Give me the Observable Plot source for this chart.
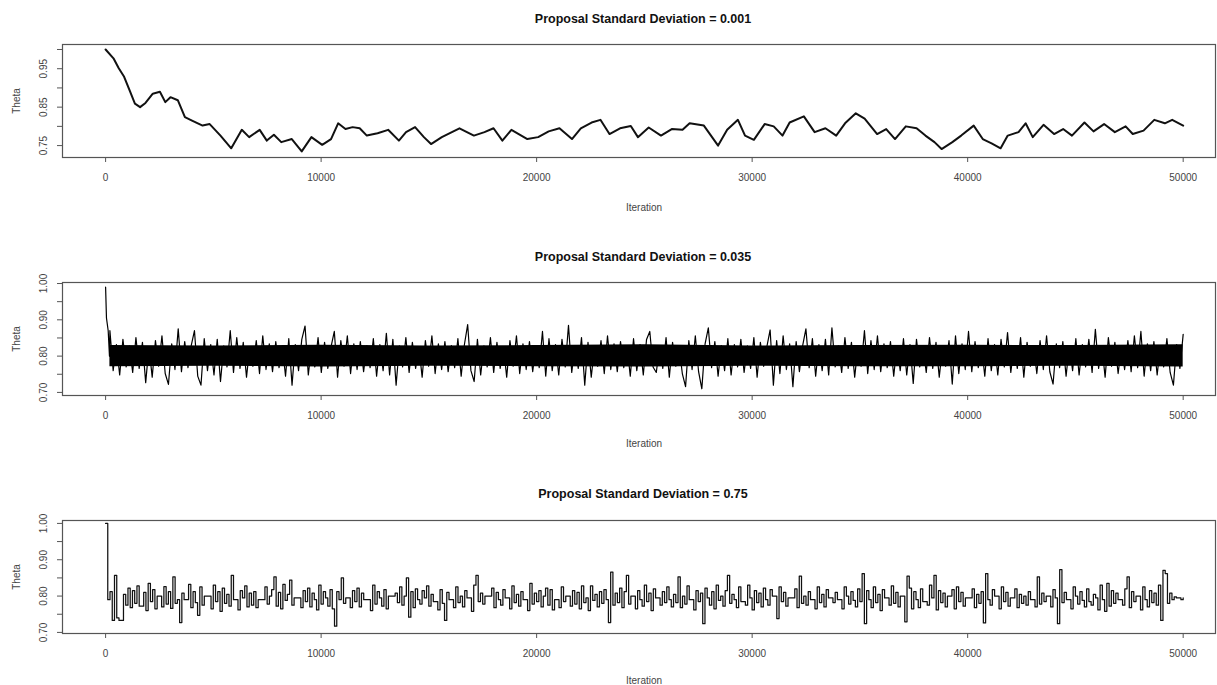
<!DOCTYPE html>
<html>
<head>
<meta charset="utf-8">
<script src="https://cdn.jsdelivr.net/npm/d3@7"></script>
<script src="https://cdn.jsdelivr.net/npm/@observablehq/plot@0.6"></script>
<style>
  body { margin: 0; background: #fff; }
  #wrap { position: relative; width: 1217px; height: 685px; background: #fff; overflow: hidden; }
  .panel { position: absolute; left: 0; }
</style>
</head>
<body>
<div id="wrap"></div>
<script>
// ---------- shared axis data ----------
const xTicks = [0, 10000, 20000, 30000, 40000, 50000];
const titles = ["Proposal Standard Deviation = 0.001", "Proposal Standard Deviation = 0.035", "Proposal Standard Deviation = 0.75"];
const xLabel = "Iteration";
const yLabel = "Theta";

// ---------- panel 1 (sd = 0.001) ----------
const p1Iter = [0,365,610,860,1110,1360,1600,1850,2190,2520,2770,3010,3350,3680,4010,4500,4830,5330,5830,6320,6660,7150,7480,7810,8150,8640,9100,9550,10050,10460,10790,11130,11460,11790,12120,12620,13110,13610,13940,14360,14770,15100,15600,16420,17090,17580,18000,18410,18830,19570,20070,20560,21060,21640,22050,22550,22960,23380,23870,24370,24700,25200,25770,26270,26770,27100,27760,28420,28840,29340,29670,30080,30580,31000,31410,31740,32400,32900,33400,33900,34310,34810,35220,35800,36220,36630,37130,37630,38040,38460,38790,39290,39700,40280,40700,41110,41530,41860,42360,42690,43020,43520,44010,44430,44840,45420,45840,46330,46830,47330,47660,48160,48660,49150,49490,50000];
const p1Theta = [1.000,0.977,0.951,0.929,0.894,0.859,0.850,0.861,0.885,0.890,0.863,0.876,0.868,0.824,0.815,0.802,0.806,0.776,0.743,0.791,0.772,0.791,0.763,0.778,0.759,0.767,0.735,0.772,0.752,0.767,0.808,0.793,0.798,0.795,0.776,0.782,0.791,0.763,0.785,0.798,0.772,0.754,0.772,0.795,0.776,0.785,0.795,0.763,0.791,0.767,0.772,0.787,0.795,0.767,0.795,0.810,0.817,0.780,0.795,0.801,0.772,0.797,0.776,0.793,0.791,0.808,0.802,0.750,0.791,0.817,0.776,0.765,0.806,0.800,0.776,0.810,0.826,0.785,0.795,0.776,0.808,0.834,0.820,0.780,0.793,0.767,0.800,0.795,0.776,0.759,0.741,0.759,0.776,0.802,0.767,0.756,0.743,0.776,0.785,0.808,0.772,0.804,0.780,0.793,0.776,0.810,0.787,0.806,0.785,0.800,0.780,0.789,0.817,0.808,0.817,0.802];
const p1YTicks = [0.75, 0.80, 0.85, 0.90, 0.95, 1.00];
const p1YLabels = [0.75, 0.85, 0.95];

// ---------- panel 2 (sd = 0.035) ----------
const p2StartIter = [0, 40, 120, 180];
const p2StartTheta = [0.990, 0.905, 0.870, 0.800];
const p2FirstIter = 200, p2LastIter = 50000;
// sampled trace values (thousandths), read left to right from the band
const p2Theta = [
870,760,832,748,846,770,828,755,851,766,
838,727,826,742,843,772,856,752,722,834,
763,875,757,840,768,829,870,745,720,848,
760,832,748,846,730,828,770,870,755,851,
766,838,742,826,772,843,752,856,763,834,
757,840,768,829,745,848,720,832,760,846,
883,748,828,770,851,755,838,766,826,868,
742,843,772,856,752,834,763,840,757,829,
768,848,745,832,760,863,748,846,720,828,
770,851,755,838,766,826,742,843,772,856,
752,834,763,840,757,829,768,848,745,832,
887,760,730,846,748,828,770,851,755,838,
766,826,742,843,772,856,752,834,763,840,
757,829,768,868,745,848,760,832,748,846,
770,885,755,828,766,851,720,838,742,826,
772,843,752,856,763,834,757,840,768,829,
745,848,760,832,748,846,868,770,755,828,
766,851,742,838,772,826,752,716,843,763,
856,757,710,834,878,768,840,745,829,760,
848,748,832,770,846,755,828,766,851,742,
838,772,826,872,720,843,752,856,763,834,
716,840,757,829,875,768,848,745,832,760,
846,748,878,770,828,755,851,766,838,742,
826,772,870,752,843,763,856,757,834,768,
840,745,829,760,848,748,832,725,846,770,
828,755,851,766,838,742,826,772,843,723,
856,752,834,763,868,757,840,768,829,745,
848,760,832,748,846,770,865,755,828,766,
851,742,838,772,826,752,843,763,856,757,
723,834,768,840,745,829,760,848,748,832,
770,846,755,874,766,828,742,851,772,838,
752,826,763,843,757,856,768,868,745,834,
760,840,748,829,770,848,755,720,832,766,860
];
// dense core of the band (where the trace is solid black)
const p2CoreIter = [200, 5000, 10000, 15000, 20000, 25000, 30000, 35000, 40000, 45000, 50000];
const p2CoreLo = [0.771, 0.772, 0.770, 0.772, 0.771, 0.770, 0.772, 0.771, 0.771, 0.772, 0.770];
const p2CoreHi = [0.829, 0.828, 0.830, 0.828, 0.829, 0.831, 0.828, 0.829, 0.830, 0.829, 0.831];
const p23YTicks = [0.70, 0.75, 0.80, 0.85, 0.90, 0.95, 1.00];
const p23YLabels = [0.70, 0.80, 0.90, 1.00];

// ---------- panel 3 (sd = 0.75) ----------
const p3StartIter = [0];
const p3StartTheta = [1.000];
const p3FirstIter = 100, p3LastIter = 50000;
const p3Theta = [
790,812,733,857,740,733,733,805,775,822,768,815,
780,828,772,772,810,760,835,785,818,765,800,800,
770,826,778,812,766,853,780,790,727,808,790,790,
832,768,812,782,747,825,775,800,800,800,765,830,
785,812,758,822,780,805,772,857,790,790,762,815,
795,828,770,808,775,812,768,790,790,790,825,778,
800,818,853,772,810,765,832,788,805,844,775,795,
795,795,768,815,785,822,770,808,790,762,830,778,
812,795,772,818,765,717,812,790,850,780,795,795,
768,815,785,822,770,808,790,790,790,760,830,778,
812,795,772,818,765,800,800,800,808,782,825,775,
800,850,742,812,768,820,790,778,815,795,828,772,
805,785,785,762,818,780,733,810,790,790,768,825,
782,800,770,815,795,795,758,830,857,785,808,778,
800,800,800,822,768,810,790,775,818,795,795,765,
828,782,805,772,812,790,790,760,835,778,808,785,
815,770,800,822,775,818,762,790,790,768,825,785,
800,800,772,815,778,810,765,828,782,795,760,828,
788,805,770,812,780,818,790,727,866,775,808,782,
822,768,812,857,778,800,800,765,815,790,772,830,
785,808,760,820,795,795,775,812,782,825,790,770,
805,782,853,768,800,778,828,790,790,762,815,785,
808,724,822,795,775,812,765,830,788,800,772,815,
857,780,805,790,768,825,785,785,775,830,795,762,
815,782,808,770,822,790,775,818,800,800,738,825,
785,810,772,795,795,795,820,768,855,780,800,775,
812,790,790,765,825,782,805,770,818,795,795,782,
810,790,790,765,825,800,778,812,788,770,820,785,
862,724,815,790,768,825,782,805,760,818,795,795,
775,828,780,810,770,800,800,729,855,822,765,812,
790,768,820,785,785,775,830,795,857,762,815,782,
808,770,800,800,818,765,825,785,810,772,795,795,
795,820,768,805,780,812,726,862,790,775,818,800,
800,765,825,785,810,772,795,795,820,768,805,780,
800,775,812,790,790,770,853,778,808,785,800,800,
770,818,795,724,873,782,810,790,790,765,825,800,
778,812,788,770,820,785,775,805,795,762,830,790,
758,835,772,815,780,808,790,790,775,820,853,768,
812,785,800,800,762,825,790,770,815,782,808,775,
830,733,871,862,780,808,790,798,795,795,790,795
];

// ---------- build tables ----------
const p1Data = p1Iter.map((it, i) => ({iter: it, theta: p1Theta[i]}));

const p2Step = (p2LastIter - p2FirstIter) / (p2Theta.length - 1);
const p2Data = p2StartIter.map((it, i) => ({iter: it, theta: p2StartTheta[i]}))
  .concat(p2Theta.map((v, i) => ({iter: p2FirstIter + i * p2Step, theta: v / 1000})));
const p2Core = p2CoreIter.map((it, i) => ({iter: it, lo: p2CoreLo[i], hi: p2CoreHi[i]}));

const p3Step = (p3LastIter - p3FirstIter) / (p3Theta.length - 1);
const p3Data = p3StartIter.map((it, i) => ({iter: it, theta: p3StartTheta[i]}))
  .concat(p3Theta.map((v, i) => ({iter: p3FirstIter + i * p3Step, theta: v / 1000})));

// ---------- panel builder ----------
const FONT = "'Liberation Sans', Arial, Helvetica, sans-serif";
const fmt2 = d3.format(".2f");

function panel(o) {
  const chart = Plot.plot({
    width: 1217,
    height: o.height,
    marginTop: o.marginTop,
    marginBottom: o.marginBottom,
    marginLeft: 62,
    marginRight: 2,
    style: {fontFamily: FONT, fontSize: "10px", background: "#fff", color: "#333", overflow: "visible"},
    x: {domain: [-2000, 51500]},
    y: {domain: o.yDomain},
    marks: [
      ...o.dataMarks,
      Plot.frame({stroke: "#555", strokeWidth: 1.2}),
      Plot.axisX({ticks: xTicks, tickSize: 5, tickPadding: 11, tickFormat: d3.format("d"), label: null, stroke: "#555", fill: "#444", fontSize: 10}),
      Plot.axisY({ticks: o.yTicks, tickSize: 5, tickFormat: () => "", label: null, stroke: "#555"}),
      Plot.text(o.yLabels, {y: d => d, text: d => fmt2(d), frameAnchor: "left", dx: -19, rotate: -90, textAnchor: "middle", lineAnchor: "middle", fill: "#444", fontSize: 10}),
      Plot.text([o.title], {frameAnchor: "top", dy: o.titleDy, dx: 4, lineAnchor: "middle", fontWeight: "bold", fontSize: 12.5, fill: "#111"}),
      Plot.text([yLabel], {frameAnchor: "left", dx: -46, rotate: -90, textAnchor: "middle", lineAnchor: "middle", fill: "#444", fontSize: 10}),
      Plot.text([xLabel], {frameAnchor: "bottom", dy: o.iterDy, dx: 5, lineAnchor: "middle", fill: "#444", fontSize: 10})
    ]
  });
  const div = document.createElement("div");
  div.className = "panel";
  div.style.top = o.top + "px";
  div.appendChild(chart);
  document.getElementById("wrap").appendChild(div);
}

panel({
  top: 0, height: 230, marginTop: 44, marginBottom: 73,
  yDomain: [0.719, 1.013], yTicks: p1YTicks, yLabels: p1YLabels,
  title: titles[0], titleDy: -26, iterDy: 50,
  dataMarks: [Plot.line(p1Data, {x: "iter", y: "theta", stroke: "#111", strokeWidth: 2, strokeLinejoin: "round"})]
});

panel({
  top: 230, height: 235, marginTop: 52, marginBottom: 70,
  yDomain: [0.6915, 1.0028], yTicks: p23YTicks, yLabels: p23YLabels,
  title: titles[1], titleDy: -26, iterDy: 48,
  dataMarks: [
    Plot.areaY(p2Core, {x: "iter", y1: "lo", y2: "hi", fill: "#000"}),
    Plot.line(p2Data, {x: "iter", y: "theta", stroke: "#000", strokeWidth: 1.2})
  ]
});

panel({
  top: 465, height: 220, marginTop: 55, marginBottom: 52,
  yDomain: [0.697, 1.008], yTicks: p23YTicks, yLabels: p23YLabels,
  title: titles[2], titleDy: -27, iterDy: 47,
  dataMarks: [Plot.line(p3Data, {x: "iter", y: "theta", stroke: "#111", strokeWidth: 1.25, curve: "step-after"})]
});
</script>
</body>
</html>
